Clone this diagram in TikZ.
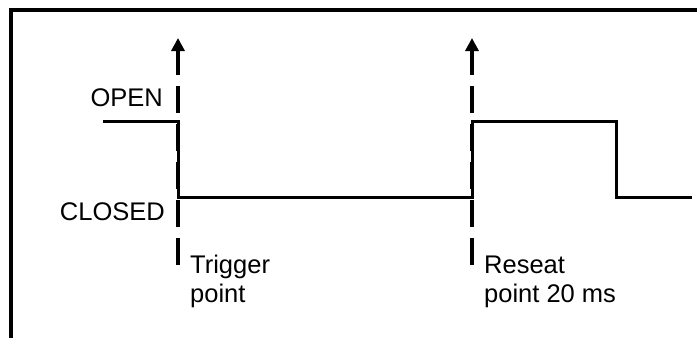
\documentclass[tikz,border=0pt]{standalone}
\usepackage{fontspec}
\setmainfont{Liberation Sans}
\usetikzlibrary{arrows.meta}
\tikzset{
  wave/.style={line width=3pt, line join=miter},
  marker/.style={line width=3.5pt, dash pattern=on 27pt off 11pt, -{Triangle[width=13pt,length=13pt]}},
  lbl/.style={font=\fontsize{25.5}{29}\selectfont, inner sep=0pt},
}
\begin{document}
\begin{tikzpicture}[x=1pt,y=-1pt]
      \useasboundingbox (0,0) rectangle (697,338);

      % frame
      \draw[line width=4pt] (10.5,338) -- (10.5,10) -- (697,10);

      % trigger and reseat markers
      \draw[marker] (178,265) -- (178,38);
      \draw[marker] (472,265) -- (472,38);

      % contact state
      \draw[wave] (103,121) -- (178,121) -- (178,197) -- (472,197)
            -- (472,121) -- (616,121) -- (616,197) -- (692,197);

      \node[lbl, anchor=base east] (open) at (163,106) {OPEN};
      \node[lbl, anchor=base east] (closed) at (165,220) {CLOSED};

      % base anchor sits on the last line
      \node[lbl, anchor=base west, align=left] (trig) at (190,302) {Trigger\\point};
      \node[lbl, anchor=base west, align=left] (reseat) at (484,302) {Reseat\\point 20 ms};

\end{tikzpicture}
\end{document}
